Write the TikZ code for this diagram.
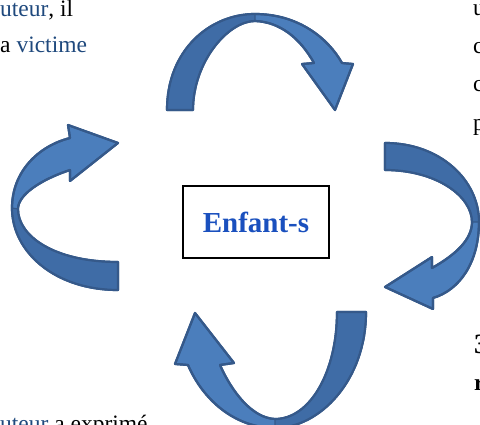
\documentclass[tikz,border=0pt]{standalone}
\usepackage{fontspec}
\setmainfont{Liberation Serif}
\usepackage{tikz}

\definecolor{faceLight}{HTML}{4B7EBC}
\definecolor{faceDark}{HTML}{3F6CA6}
\definecolor{ribbonLine}{HTML}{35598A}
\definecolor{linkBlue}{HTML}{1F497D}
\definecolor{childBlue}{HTML}{1A50BE}

\begin{document}
\begin{tikzpicture}[x=1pt, y=-1pt,
    light/.style={fill=faceLight, draw=ribbonLine, line width=2.2pt, line join=round},
    dark/.style={fill=faceDark, draw=ribbonLine, line width=1.2pt, line join=round},
    rim/.style={draw=ribbonLine, line width=2.2pt, line join=round},
    txt/.style={anchor=base west, inner sep=0pt, font=\fontsize{23.5}{27}\selectfont},
    head/.style={anchor=base west, inner sep=0pt, font=\fontsize{28}{32}\selectfont\bfseries}]

    \useasboundingbox (0,0) rectangle (480,425);

    % texte autour du schema
    \node[txt] (l1) at (0,17) {\textcolor{linkBlue}{uteur}, il};
    \node[txt] (l2) at (0,53) {a \textcolor{linkBlue}{victime}};
    \node[txt] (l3) at (0,431) {\textcolor{linkBlue}{uteur} a exprimé};
    \node[txt] (r1) at (473,16) {u};
    \node[txt] (r2) at (473,54) {c};
    \node[txt] (r3) at (473,92) {c};
    \node[txt] (r4) at (473,131) {p};
    \node[head] (r5) at (474,353) {3};
    \node[txt, font=\fontsize{23.5}{27}\selectfont\bfseries] (r6) at (474,390) {r};

    % fleche du haut
    \def\topArrow{(167,110) .. controls (167,50) and (210,14) .. (255,14)
        .. controls (298,14) and (328,38) .. (342,63)
        -- (353,64) -- (335,110) -- (302,64) -- (314,63)
        .. controls (300,38) and (280,22) .. (255,21)
        .. controls (228,21) and (193,62) .. (193,110) -- cycle}
    \fill[light] \topArrow;
    \filldraw[dark] (167,110) .. controls (167,50) and (210,14) .. (255,14)
        -- (255,21) .. controls (228,21) and (193,62) .. (193,110) -- cycle;
    \draw[rim] \topArrow;

    % fleche de droite
    \def\rightArrow{(385,143) .. controls (440,143) and (479,180) .. (479,222)
        .. controls (479,262) and (460,290) .. (433,298)
        -- (433,309) -- (385,287) -- (432,257) -- (432,268)
        .. controls (455,255) and (472,240) .. (472,222)
        .. controls (472,196) and (436,170) .. (385,170) -- cycle}
    \fill[light] \rightArrow;
    \filldraw[dark] (385,143) .. controls (440,143) and (479,180) .. (479,222)
        -- (472,222) .. controls (472,196) and (436,170) .. (385,170) -- cycle;
    \draw[rim] \rightArrow;

    % fleche du bas
    \def\bottomArrow{(366,312) .. controls (366,380) and (320,428) .. (275,428)
        .. controls (235,428) and (203,400) .. (188,365)
        -- (175,364) -- (195,313) -- (234,363) -- (220,365)
        .. controls (232,392) and (252,418) .. (275,419)
        .. controls (310,419) and (337,372) .. (337,312) -- cycle}
    \fill[light] \bottomArrow;
    \filldraw[dark] (366,312) .. controls (366,380) and (320,428) .. (275,428)
        -- (275,419) .. controls (310,419) and (337,372) .. (337,312) -- cycle;
    \draw[rim] \bottomArrow;

    % fleche de gauche
    \def\leftArrow{(118,290) .. controls (55,290) and (12,252) .. (12,208)
        .. controls (12,172) and (38,146) .. (70,138)
        -- (68,125) -- (118,143) -- (70,181) -- (70,170)
        .. controls (40,180) and (18,195) .. (18,209)
        .. controls (18,236) and (54,262) .. (118,262) -- cycle}
    \fill[light] \leftArrow;
    \filldraw[dark] (118,290) .. controls (55,290) and (12,252) .. (12,208)
        -- (18,209) .. controls (18,236) and (54,262) .. (118,262) -- cycle;
    \draw[rim] \leftArrow;

    % cadre central
    \node[draw, line width=1.6pt, minimum width=146pt, minimum height=72pt,
        font=\fontsize{29}{33}\selectfont\bfseries, text=childBlue] (enfant) at (256,222) {Enfant-s};

  \end{tikzpicture}
\end{document}
